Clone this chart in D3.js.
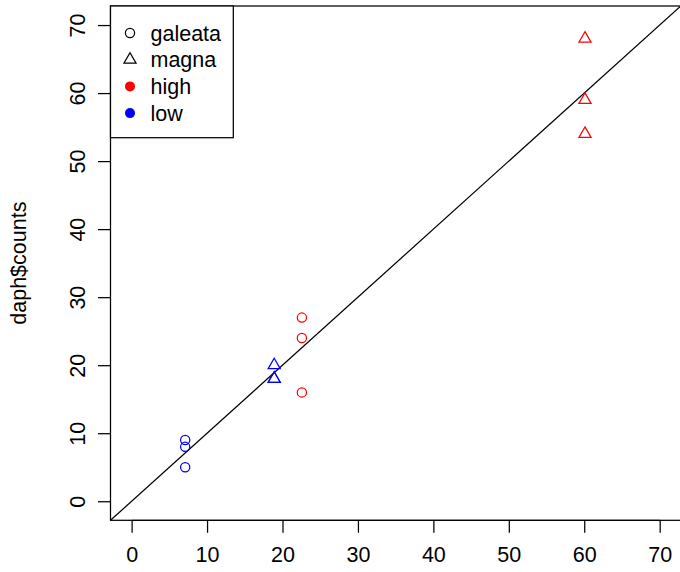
<!DOCTYPE html>
<html>
<head>
<meta charset="utf-8">
<script src="https://cdn.jsdelivr.net/npm/d3@7"></script>
<style>
  body { margin: 0; background: #fff; }
  svg { font-family: "Liberation Sans", Arial, sans-serif; }
</style>
</head>
<body>
<div id="vis"></div>
<script>
// observed vs fitted counts
const species = ["galeata", "galeata", "galeata", "magna", "magna", "magna",
                 "galeata", "galeata", "galeata", "magna", "magna", "magna"];
const level = ["low", "low", "low", "low", "low", "low",
               "high", "high", "high", "high", "high", "high"];
const fitted = [7.10, 7.10, 7.10, 18.90, 18.90, 18.90,
                22.57, 22.57, 22.57, 60.10, 60.10, 60.10];
const counts = [9, 8, 5, 20, 18, 18, 27, 24, 16, 68, 59, 54];

const xTicks = [0, 10, 20, 30, 40, 50, 60, 70];
const yTicks = [0, 10, 20, 30, 40, 50, 60, 70];
const legendLabels = ["galeata", "magna", "high", "low"];

const FRAME_WIDTH = 680;
const FRAME_HEIGHT = 572;
const FONT_SIZE = "21.5px";
const COLORS = {high: "#ff0000", low: "#0000ff"};

const svg = d3.select("#vis")
    .append("svg")
    .attr("width", FRAME_WIDTH)
    .attr("height", FRAME_HEIGHT);

// R style limits: c(0,70) extended 4%
const X_SCALE = d3.scaleLinear().domain([-2.8, 72.8]).range([110.5, 680.8]);
const Y_SCALE = d3.scaleLinear().domain([-2.8, 72.8]).range([520.3, 6]);

const PL = X_SCALE(-2.8), PR = X_SCALE(72.8);
const PT = Y_SCALE(72.8), PB = Y_SCALE(-2.8);

svg.append("clipPath").attr("id", "plotclip")
    .append("rect")
    .attr("x", PL).attr("y", PT)
    .attr("width", PR - PL).attr("height", PB - PT);

// abline(0,1)
svg.append("line")
    .attr("clip-path", "url(#plotclip)")
    .attr("x1", X_SCALE(-2.8)).attr("y1", Y_SCALE(-2.8))
    .attr("x2", X_SCALE(72.8)).attr("y2", Y_SCALE(72.8))
    .attr("stroke", "#000").attr("stroke-width", 1.25);

// triangle like R pch 2
const tri = (cx, cy) => {
    const xc = 4.5;
    const r = 1.5551 * xc, hw = 1.3468 * xc, yc = 0.7776 * xc;
    return "M" + cx + "," + (cy - r) + "L" + (cx + hw) + "," + (cy + yc) +
           "L" + (cx - hw) + "," + (cy + yc) + "Z";
};

const idx = d3.range(counts.length);

svg.selectAll(".circ")
    .data(idx.filter((i) => species[i] === "galeata"))
    .enter()
    .append("circle")
    .attr("class", "circ")
    .attr("cx", (i) => X_SCALE(fitted[i]))
    .attr("cy", (i) => Y_SCALE(counts[i]))
    .attr("r", 4.6)
    .attr("fill", "none")
    .attr("stroke", (i) => COLORS[level[i]])
    .attr("stroke-width", 1.25);

svg.selectAll(".tri")
    .data(idx.filter((i) => species[i] === "magna"))
    .enter()
    .append("path")
    .attr("class", "tri")
    .attr("d", (i) => tri(X_SCALE(fitted[i]), Y_SCALE(counts[i])))
    .attr("fill", "none")
    .attr("stroke", (i) => COLORS[level[i]])
    .attr("stroke-width", 1.25);

// box
svg.append("rect")
    .attr("x", PL).attr("y", PT)
    .attr("width", PR - PL).attr("height", PB - PT)
    .attr("fill", "none").attr("stroke", "#000").attr("stroke-width", 1.25);

// x axis
const xAxis = svg.append("g")
    .attr("transform", "translate(0," + PB + ")")
    .call(d3.axisBottom(X_SCALE).tickValues(xTicks).tickSize(12.5).tickPadding(14).tickSizeOuter(0));
xAxis.select(".domain")
    .attr("d", "M" + X_SCALE(0) + ",0H" + X_SCALE(70));
xAxis.selectAll("line").attr("stroke-width", 1.25);
xAxis.selectAll("text").attr("font-size", FONT_SIZE).attr("font-family", "Liberation Sans, Arial, sans-serif").attr("fill", "#000");

// y axis
const yAxis = svg.append("g")
    .attr("transform", "translate(" + PL + ",0)")
    .call(d3.axisLeft(Y_SCALE).tickValues(yTicks).tickSize(12.5).tickSizeOuter(0));
yAxis.select(".domain")
    .attr("d", "M0," + Y_SCALE(0) + "V" + Y_SCALE(70));
yAxis.selectAll("line").attr("stroke-width", 1.25);
yAxis.selectAll("text")
    .attr("x", null).attr("dy", null)
    .attr("text-anchor", "middle")
    .attr("transform", "translate(-26,0) rotate(-90)")
    .attr("font-size", FONT_SIZE)
    .attr("font-family", "Liberation Sans, Arial, sans-serif")
    .attr("fill", "#000");

// y label
svg.append("text")
    .attr("transform", "translate(25.5," + ((PT + PB) / 2) + ") rotate(-90)")
    .attr("text-anchor", "middle")
    .attr("font-size", FONT_SIZE)
    .text("daph$counts");

// legend
const legend = svg.append("g");
legend.append("rect")
    .attr("x", PL).attr("y", PT)
    .attr("width", 233.3 - PL).attr("height", 137.7 - PT)
    .attr("fill", "#fff").attr("stroke", "#000").attr("stroke-width", 1.25);

const rowY = (i) => 33 + i * 26.7;
legendLabels.forEach((lab, i) => {
    const cy = rowY(i);
    if (lab === "galeata") {
        legend.append("circle").attr("cx", 130).attr("cy", cy).attr("r", 4.6)
            .attr("fill", "none").attr("stroke", "#000").attr("stroke-width", 1.25);
    } else if (lab === "magna") {
        legend.append("path").attr("d", tri(130, cy))
            .attr("fill", "none").attr("stroke", "#000").attr("stroke-width", 1.25);
    } else {
        legend.append("circle").attr("cx", 130).attr("cy", cy).attr("r", 5)
            .attr("fill", COLORS[lab]);
    }
    legend.append("text")
        .attr("x", 150.5).attr("y", cy + 7.5)
        .attr("font-size", FONT_SIZE)
        .text(lab);
});
</script>
</body>
</html>
